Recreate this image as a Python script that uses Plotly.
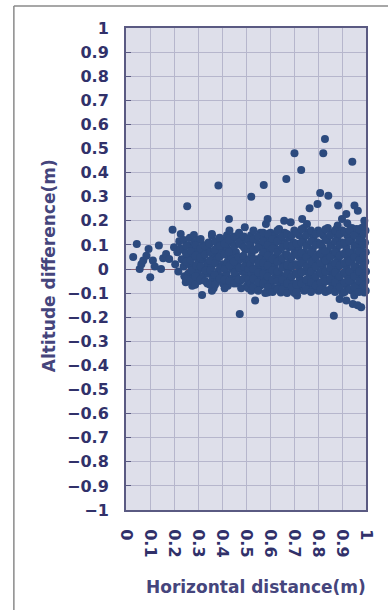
import plotly.graph_objects as go

# ---- tick labels ----
y_tick_vals = [1.0, 0.9, 0.8, 0.7, 0.6, 0.5, 0.4, 0.3, 0.2, 0.1, 0.0,
               -0.1, -0.2, -0.3, -0.4, -0.5, -0.6, -0.7, -0.8, -0.9, -1.0]
y_tick_text = ["1", "0.9", "0.8", "0.7", "0.6", "0.5", "0.4", "0.3", "0.2", "0.1", "0",
               "\u22120.1", "\u22120.2", "\u22120.3", "\u22120.4", "\u22120.5", "\u22120.6",
               "\u22120.7", "\u22120.8", "\u22120.9", "\u22121"]
x_tick_vals = [0.0, 0.1, 0.2, 0.3, 0.4, 0.5, 0.6, 0.7, 0.8, 0.9, 1.0]
x_tick_text = ["0", "0.1", "0.2", "0.3", "0.4", "0.5", "0.6", "0.7", "0.8", "0.9", "1"]

# ---- data ----
# sparse points near the origin
near_points = [
    (0.030, 0.050), (0.045, 0.104), (0.057, 0.000), (0.064, 0.020), (0.072, 0.035),
    (0.085, 0.055), (0.094, 0.083), (0.101, -0.034), (0.112, 0.035), (0.120, 0.010),
    (0.137, 0.097), (0.146, 0.000), (0.155, 0.045), (0.167, 0.062), (0.180, 0.041),
    (0.194, 0.163), (0.200, 0.090), (0.205, 0.020), (0.214, 0.069), (0.222, 0.115),
    (0.228, 0.145), (0.232, 0.040), (0.218, -0.010), (0.226, 0.085),
]

# medium-density band (0.24 - 0.51)
middle_points = [
    (0.241, 0.120), (0.238, 0.080), (0.244, 0.040), (0.240, 0.010), (0.243, -0.030), (0.249, -0.055),
    (0.262, 0.100), (0.258, 0.060), (0.263, 0.020), (0.259, -0.020), (0.276, -0.069), (0.266, 0.130),
    (0.281, 0.090), (0.278, 0.050), (0.283, 0.000), (0.279, -0.040), (0.283, 0.141), (0.285, 0.110),
    (0.301, 0.120), (0.298, 0.070), (0.303, 0.030), (0.299, -0.010), (0.304, -0.050),
    (0.321, 0.100), (0.318, 0.040), (0.322, 0.000), (0.319, -0.030), (0.317, -0.108), (0.325, 0.060),
    (0.341, 0.080), (0.338, 0.020), (0.343, -0.020), (0.339, -0.060), (0.344, 0.110),
    (0.358, 0.138), (0.361, 0.060), (0.357, 0.010), (0.362, -0.040), (0.365, -0.080), (0.358, -0.090),
    (0.381, 0.100), (0.378, 0.040), (0.383, -0.010), (0.379, -0.050), (0.384, 0.070),
    (0.401, 0.120), (0.398, 0.080), (0.403, 0.020), (0.399, -0.030), (0.404, -0.060),
    (0.421, 0.140), (0.418, 0.090), (0.423, 0.030), (0.419, -0.020), (0.424, -0.070), (0.426, 0.055),
    (0.429, 0.207),
    (0.441, 0.110), (0.438, 0.050), (0.443, 0.000), (0.439, -0.040), (0.444, 0.080),
    (0.461, 0.130), (0.458, 0.070), (0.463, 0.020), (0.459, -0.030), (0.464, -0.060),
    (0.481, 0.100), (0.478, 0.040), (0.483, -0.010), (0.480, -0.080), (0.484, 0.120), (0.476, -0.050),
    (0.495, 0.173), (0.501, 0.120), (0.498, 0.080), (0.503, 0.030), (0.499, -0.020), (0.504, -0.070),
]

middle_fill_points = [
    (0.251, 0.095), (0.252, 0.030), (0.250, -0.040), (0.250, 0.065),
    (0.271, 0.075), (0.270, 0.035), (0.272, -0.005), (0.269, -0.050),
    (0.291, 0.100), (0.289, 0.055), (0.292, 0.015), (0.290, -0.030), (0.288, -0.065),
    (0.311, 0.085), (0.309, 0.050), (0.312, 0.010), (0.310, -0.045), (0.311, 0.125),
    (0.331, 0.095), (0.329, 0.060), (0.332, -0.005), (0.330, -0.050),
    (0.351, 0.070), (0.349, 0.035), (0.352, -0.005), (0.350, -0.065), (0.348, 0.105),
    (0.371, 0.115), (0.369, 0.080), (0.372, 0.025), (0.370, -0.025), (0.371, -0.065),
    (0.391, 0.095), (0.389, 0.050), (0.392, 0.005), (0.390, -0.040), (0.390, 0.130),
    (0.411, 0.105), (0.409, 0.060), (0.412, 0.000), (0.410, -0.045), (0.411, -0.080),
    (0.431, 0.120), (0.429, 0.070), (0.432, 0.015), (0.430, -0.050), (0.431, 0.160),
    (0.451, 0.095), (0.449, 0.030), (0.452, -0.015), (0.450, -0.060), (0.451, 0.135),
    (0.471, 0.110), (0.469, 0.050), (0.472, 0.005), (0.470, -0.045), (0.471, 0.150),
    (0.491, 0.090), (0.489, 0.055), (0.492, 0.010), (0.490, -0.040), (0.491, 0.135),
    (0.511, 0.125), (0.509, 0.085), (0.512, 0.040), (0.510, 0.000), (0.511, -0.045), (0.510, -0.080),
]

# dense band (0.52 - 1.0)
dense_points = [
    (0.521, 0.140), (0.518, 0.100), (0.523, 0.060), (0.519, 0.020), (0.524, -0.020), (0.520, -0.060), (0.522, -0.090),
    (0.541, 0.120), (0.538, 0.080), (0.543, 0.040), (0.539, 0.000), (0.544, -0.040), (0.540, -0.080),
    (0.561, 0.150), (0.558, 0.100), (0.563, 0.050), (0.559, 0.010), (0.564, -0.030), (0.560, -0.070),
    (0.581, 0.130), (0.578, 0.090), (0.583, 0.040), (0.579, 0.000), (0.584, -0.050), (0.580, -0.100),
    (0.583, 0.187), (0.590, 0.207), (0.590, -0.097),
    (0.601, 0.110), (0.598, 0.070), (0.603, 0.030), (0.599, -0.010), (0.604, -0.060), (0.600, -0.090), (0.602, 0.150),
    (0.621, 0.140), (0.618, 0.100), (0.623, 0.050), (0.619, 0.010), (0.624, -0.030), (0.620, -0.080),
    (0.641, 0.120), (0.638, 0.080), (0.643, 0.030), (0.639, -0.020), (0.644, -0.060), (0.645, -0.097),
    (0.638, 0.166), (0.659, 0.200),
    (0.661, 0.150), (0.658, 0.110), (0.663, 0.060), (0.659, 0.020), (0.664, -0.030), (0.660, -0.070),
    (0.681, 0.130), (0.678, 0.090), (0.683, 0.040), (0.679, 0.000), (0.684, -0.040), (0.680, -0.090), (0.686, 0.194),
    (0.701, 0.160), (0.698, 0.110), (0.703, 0.070), (0.699, 0.020), (0.704, -0.020), (0.700, -0.060), (0.702, -0.100),
    (0.713, -0.110),
    (0.721, 0.140), (0.718, 0.090), (0.723, 0.050), (0.719, 0.010), (0.724, -0.040), (0.720, -0.080),
    (0.734, 0.207), (0.754, 0.187),
    (0.741, 0.170), (0.738, 0.120), (0.743, 0.070), (0.739, 0.030), (0.744, -0.010), (0.740, -0.050), (0.742, -0.090),
    (0.761, 0.150), (0.758, 0.100), (0.763, 0.050), (0.759, 0.010), (0.764, -0.030), (0.760, -0.070),
    (0.781, 0.130), (0.778, 0.080), (0.783, 0.040), (0.779, 0.000), (0.784, -0.040), (0.780, -0.080),
    (0.801, 0.160), (0.798, 0.110), (0.803, 0.060), (0.799, 0.020), (0.804, -0.020), (0.800, -0.060), (0.802, -0.090),
    (0.821, 0.140), (0.818, 0.090), (0.823, 0.050), (0.819, 0.010), (0.824, -0.030), (0.820, -0.070),
    (0.841, 0.170), (0.838, 0.120), (0.843, 0.070), (0.839, 0.030), (0.844, -0.010), (0.840, -0.050), (0.842, -0.090),
    (0.861, 0.150), (0.858, 0.100), (0.863, 0.060), (0.859, 0.020), (0.864, -0.030), (0.860, -0.070),
    (0.877, 0.166),
    (0.881, 0.130), (0.878, 0.080), (0.883, 0.040), (0.879, 0.000), (0.884, -0.040), (0.880, -0.080), (0.882, 0.180),
    (0.890, -0.124),
    (0.901, 0.160), (0.898, 0.110), (0.903, 0.060), (0.899, 0.020), (0.904, -0.020), (0.900, -0.060), (0.902, -0.100),
    (0.900, 0.207), (0.918, -0.131),
    (0.921, 0.140), (0.918, 0.090), (0.923, 0.050), (0.919, 0.010), (0.924, -0.030), (0.920, -0.070), (0.922, 0.190),
    (0.941, 0.170), (0.938, 0.120), (0.943, 0.070), (0.939, 0.030), (0.944, -0.010), (0.940, -0.050), (0.942, -0.090),
    (0.945, -0.145),
    (0.961, 0.150), (0.958, 0.100), (0.963, 0.050), (0.959, 0.010), (0.964, -0.030), (0.960, -0.070), (0.960, 0.166),
    (0.981, 0.130), (0.978, 0.090), (0.983, 0.040), (0.979, 0.000), (0.984, -0.040), (0.980, -0.080), (0.982, 0.170),
    (0.980, -0.159),
    (0.998, 0.160), (0.996, 0.110), (0.999, 0.070), (0.997, 0.030), (1.000, -0.010), (0.998, -0.050), (0.999, -0.090),
    (0.993, 0.200), (0.993, -0.097),
]

dense_fill_points = [
    (0.531, 0.125), (0.531, 0.080), (0.531, 0.040), (0.531, 0.000), (0.531, -0.040), (0.531, -0.075), (0.531, 0.160),
    (0.551, 0.135), (0.551, 0.090), (0.551, 0.025), (0.551, -0.015), (0.551, -0.055), (0.551, -0.090),
    (0.571, 0.115), (0.571, 0.070), (0.571, 0.025), (0.571, -0.020), (0.571, -0.060), (0.571, 0.150),
    (0.591, 0.145), (0.591, 0.100), (0.591, 0.055), (0.591, 0.015), (0.591, -0.030), (0.591, -0.075),
    (0.611, 0.125), (0.611, 0.085), (0.611, 0.040), (0.611, -0.005), (0.611, -0.045), (0.611, -0.095),
    (0.631, 0.160), (0.631, 0.115), (0.631, 0.070), (0.631, 0.030), (0.631, -0.010), (0.631, -0.050), (0.631, -0.085),
    (0.651, 0.135), (0.651, 0.090), (0.651, 0.045), (0.651, 0.005), (0.651, -0.045), (0.651, -0.085),
    (0.671, 0.145), (0.671, 0.100), (0.671, 0.060), (0.671, 0.015), (0.671, -0.020), (0.671, -0.060), (0.671, -0.100),
    (0.691, 0.140), (0.691, 0.095), (0.691, 0.050), (0.691, 0.010), (0.691, -0.030), (0.691, -0.075),
    (0.711, 0.150), (0.711, 0.105), (0.711, 0.060), (0.711, 0.020), (0.711, -0.020), (0.711, -0.065), (0.711, -0.095),
    (0.731, 0.165), (0.731, 0.110), (0.731, 0.065), (0.731, 0.025), (0.731, -0.015), (0.731, -0.060),
    (0.751, 0.140), (0.751, 0.095), (0.751, 0.050), (0.751, 0.010), (0.751, -0.045), (0.751, -0.085),
    (0.771, 0.160), (0.771, 0.115), (0.771, 0.070), (0.771, 0.030), (0.771, -0.010), (0.771, -0.055), (0.771, -0.095),
    (0.791, 0.145), (0.791, 0.100), (0.791, 0.050), (0.791, 0.010), (0.791, -0.030), (0.791, -0.070),
    (0.811, 0.150), (0.811, 0.105), (0.811, 0.065), (0.811, 0.025), (0.811, -0.015), (0.811, -0.055), (0.811, -0.085),
    (0.831, 0.165), (0.831, 0.120), (0.831, 0.075), (0.831, 0.035), (0.831, -0.010), (0.831, -0.050), (0.831, -0.095),
    (0.851, 0.140), (0.851, 0.095), (0.851, 0.050), (0.851, 0.005), (0.851, -0.040), (0.851, -0.085),
    (0.871, 0.160), (0.871, 0.115), (0.871, 0.070), (0.871, 0.025), (0.871, -0.015), (0.871, -0.055), (0.871, -0.095),
    (0.891, 0.145), (0.891, 0.100), (0.891, 0.055), (0.891, 0.015), (0.891, -0.030), (0.891, -0.075),
    (0.911, 0.155), (0.911, 0.110), (0.911, 0.065), (0.911, 0.025), (0.911, -0.015), (0.911, -0.055), (0.911, -0.095),
    (0.931, 0.160), (0.931, 0.115), (0.931, 0.070), (0.931, 0.030), (0.931, -0.010), (0.931, -0.050), (0.931, -0.085),
    (0.951, 0.140), (0.951, 0.095), (0.951, 0.050), (0.951, 0.010), (0.951, -0.030), (0.951, -0.075), (0.951, -0.110),
    (0.971, 0.165), (0.971, 0.120), (0.971, 0.075), (0.971, 0.035), (0.971, -0.010), (0.971, -0.050), (0.971, -0.095),
    (0.991, 0.145), (0.991, 0.100), (0.991, 0.055), (0.991, 0.015), (0.991, -0.030), (0.991, -0.070), (0.991, 0.175),
]

# scattered outliers above / below the band
outlier_points = [
    (0.255, 0.260), (0.358, 0.145), (0.385, 0.346), (0.522, 0.300), (0.574, 0.349),
    (0.668, 0.373), (0.702, 0.480), (0.730, 0.411), (0.765, 0.252), (0.798, 0.270),
    (0.809, 0.315), (0.843, 0.304), (0.822, 0.480), (0.829, 0.539), (0.884, 0.263),
    (0.918, 0.228), (0.943, 0.445), (0.952, 0.263), (0.966, 0.242),
    (0.474, -0.187), (0.538, -0.131), (0.866, -0.194), (0.965, -0.150),
]

fig = go.Figure()
for pts in (near_points, middle_points, middle_fill_points, dense_points,
            dense_fill_points, outlier_points):
    fig.add_trace(go.Scatter(
        x=[p[0] for p in pts], y=[p[1] for p in pts],
        mode="markers", cliponaxis=False, showlegend=False, hoverinfo="skip",
        marker=dict(size=8, color="#2c4a7e", line=dict(width=0)),
    ))

tick_font = dict(family="DejaVu Sans", size=16, color="#31316a", weight="bold")
title_font = dict(family="DejaVu Sans", size=17, color="#45457c", weight="bold")

fig.update_layout(
    width=388, height=610,
    margin=dict(l=126, r=18, t=28, b=100),
    paper_bgcolor="white", plot_bgcolor="#dedfea",
    xaxis=dict(range=[0, 1], tickvals=x_tick_vals, ticktext=x_tick_text,
               tickangle=90, tickfont=tick_font, ticklabelstandoff=14,
               showgrid=True, gridcolor="#b6b6cc",
               gridwidth=1, zeroline=False, showline=True, linecolor="#5a5a82",
               linewidth=2, mirror=True, ticks=""),
    yaxis=dict(range=[-1, 1], tickvals=y_tick_vals, ticktext=y_tick_text,
               tickfont=tick_font, ticklabelstandoff=12,
               showgrid=True, gridcolor="#b6b6cc", gridwidth=1,
               zeroline=True, zerolinecolor="#8c6476", zerolinewidth=1,
               showline=True, linecolor="#5a5a82", linewidth=2, mirror=True,
               ticks="inside", ticklen=5, tickcolor="#5a5a82"),
    annotations=[
        dict(text="Altitude difference(m)", xref="paper", yref="paper",
             x=(48 - 126) / 244, y=(510 - 266) / 482, textangle=-90,
             showarrow=False, font=title_font,
             xanchor="center", yanchor="middle"),
        dict(text="Horizontal distance(m)", xref="paper", yref="paper",
             x=(258 - 126) / 244, y=(510 - 587) / 482,
             showarrow=False, font=title_font,
             xanchor="center", yanchor="middle"),
    ],
    shapes=[
        dict(type="line", xref="paper", yref="paper", x0=(12 - 126) / 244, x1=(400 - 126) / 244,
             y0=(510 - 6) / 482, y1=(510 - 6) / 482, line=dict(color="#8a8a8a", width=1.5)),
        dict(type="line", xref="paper", yref="paper", x0=(12 - 126) / 244, x1=(12 - 126) / 244,
             y0=(510 - 6) / 482, y1=(510 - 620) / 482, line=dict(color="#8a8a8a", width=1.5)),
    ],
)

fig.write_html("out.html",
               config={"displayModeBar": False},
               post_script="document.body.style.margin='0';document.body.style.overflow='hidden';")
